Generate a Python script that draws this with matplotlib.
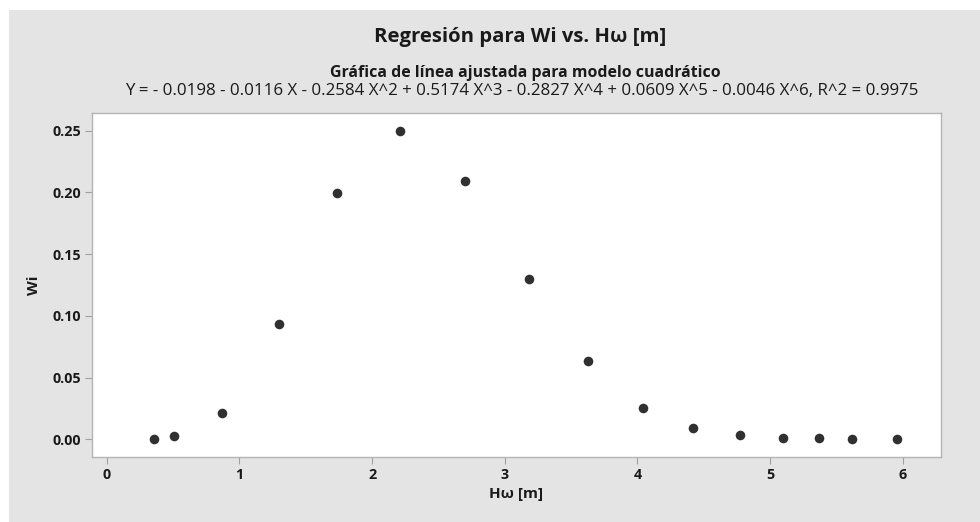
import matplotlib
matplotlib.use('Agg')
import matplotlib.pyplot as plt
from matplotlib.patches import Rectangle

# data
hw = [0.354, 0.505, 0.869, 1.301, 1.736, 2.213, 2.703, 3.180,
      3.630, 4.042, 4.422, 4.774, 5.100, 5.369, 5.620, 5.955]
wi = [0.0002, 0.0024, 0.0216, 0.0936, 0.1997, 0.2497, 0.2095, 0.1298,
      0.0634, 0.0256, 0.0089, 0.0032, 0.0011, 0.0011, 0.0005, 0.0005]

x_ticks = [0, 1, 2, 3, 4, 5, 6]
y_ticks = [0.00, 0.05, 0.10, 0.15, 0.20, 0.25]

title = 'Regresión para Wi vs. Hω [m]'
subtitle = 'Gráfica de línea ajustada para modelo cuadrático'
equation = ('Y = - 0.0198 - 0.0116 X - 0.2584 X^2 + 0.5174 X^3 - 0.2827 X^4 '
            '+ 0.0609 X^5 - 0.0046 X^6, R^2 = 0.9975')

plt.rcParams['font.family'] = ['Open Sans', 'DejaVu Sans']

W, H = 980, 522
fig = plt.figure(figsize=(W / 100, H / 100), dpi=100)
fig.patch.set_facecolor('white')
# grey panel behind everything
fig.patches.append(Rectangle((9 / W, 0), 1 - 9 / W, 1 - 10 / H,
                             transform=fig.transFigure, facecolor='#e4e4e4',
                             edgecolor='none', zorder=-10))

ax = fig.add_axes([92.3 / W, 1 - 457.3 / H, (940.5 - 92.3) / W, (457.3 - 113.3) / H])
ax.set_facecolor('white')
ax.scatter(hw, wi, s=48, color='#303030', zorder=3, linewidths=0)

ax.set_xlim(-0.109, 6.285)
ax.set_ylim(-0.0146, 0.2641)
ax.set_xticks(x_ticks)
ax.set_yticks(y_ticks)
ax.set_xticklabels([str(t) for t in x_ticks], fontweight='bold', fontsize=10.3)
ax.set_yticklabels(['%.2f' % t for t in y_ticks], fontweight='bold', fontsize=10.3)
ax.tick_params(axis='both', direction='out', length=5, width=0.8, color='#a0a0a0',
               labelcolor='#1a1a1a', pad=3)

for s in ax.spines.values():
    s.set_color('#b4b4b4')
    s.set_linewidth(1.0)

ax.set_xlabel('Hω [m]', fontweight='bold', fontsize=11, color='#1a1a1a', labelpad=3)
ax.set_ylabel('Wi', fontweight='bold', fontsize=11, color='#1a1a1a', labelpad=8)

fig.text(520 / W, 1 - 37 / H, title, ha='center', va='center',
         fontsize=14.6, fontweight='bold', color='#1a1a1a')
fig.text(525 / W, 1 - 73 / H, subtitle, ha='center', va='center',
         fontsize=11.4, fontweight='bold', color='#1a1a1a')
fig.text(522 / W, 1 - 91 / H, equation, ha='center', va='center',
         fontsize=12.2, color='#1a1a1a')

fig.savefig('out.png', dpi=100)
